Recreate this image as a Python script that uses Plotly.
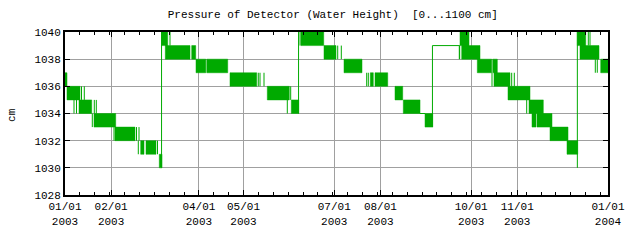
import pandas as pd
import plotly.graph_objects as go

# ---- data (days since 2003-01-01, level in cm) ----
band_start = [0.0, 1.34, 9.41, 19.49, 33.61, 50.88, 54.45, 63.39, 64.87, 67.42, 85.17,
              88.06, 95.32, 110.92, 135.99, 152.12, 158.64, 174.10, 187.55, 205.22, 208.38,
              221.83, 227.41, 242.0, 265.52, 266.66, 277.15, 287.5, 288.37, 297.78, 311.9,
              313.92, 317.28, 326.02, 337.45, 344.37, 346.18, 360.10]
band_end = [1.34, 10.08, 17.95, 34.08, 47.05, 53.10, 61.17, 65.20, 69.03, 84.02, 87.86,
            94.65, 109.37, 128.86, 150.77, 157.09, 173.90, 182.17, 199.64, 207.24, 216.92,
            227.0, 238.64, 247.17, 271.57, 278.96, 286.83, 290.6, 299.13, 312.57, 321.51,
            316.6, 327.36, 338.12, 344.64, 350.02, 358.95, 365.0]
band_low = [1036, 1035, 1034, 1033, 1032, 1031, 1031, 1030, 1039, 1038, 1038,
            1037, 1037, 1036, 1035, 1034, 1039, 1038, 1037, 1036, 1036,
            1035, 1034, 1033, 1039, 1038, 1037, 1037, 1036, 1035, 1034,
            1033, 1033, 1032, 1031, 1039, 1038, 1037]

spike_day = [11.09, 12.97, 6.05, 7.73, 19.7, 21.04, 18.35, 32.94, 48.06, 49.74, 49.27,
             62.18, 70.58, 129.93, 131.08, 133.77, 151.71, 149.43, 158.0, 183.31, 185.73,
             202.8, 203.88, 265.05, 287.03, 300.27, 302.02, 310.35, 351.76, 352.9,
             356.46, 357.8]
spike_low = [1035, 1035, 1034, 1034, 1034, 1034, 1033, 1032, 1032, 1032, 1031,
             1031, 1039, 1036, 1036, 1036, 1035, 1034, 1039, 1038, 1038,
             1036, 1036, 1038, 1036, 1036, 1036, 1034, 1039, 1039,
             1037, 1037]

path_day = [64.9, 64.9, None, 157.0, 157.0, None, 238.64, 242.0, None,
            247.0, 247.0, 265.3, 265.3, None, 344.4, 344.4]
path_cm = [1030, 1040, None, 1034, 1040, None, 1034, 1034, None,
           1033, 1039, 1039, 1038, None, 1030, 1040]

tick_dates = ['2003-01-01', '2003-02-01', '2003-04-01', '2003-05-01', '2003-07-01',
              '2003-08-01', '2003-10-01', '2003-11-01', '2004-01-01']
tick_text = ['01/01<br>2003', '02/01<br>2003', '04/01<br>2003', '05/01<br>2003',
             '07/01<br>2003', '08/01<br>2003', '10/01<br>2003', '11/01<br>2003',
             '01/01<br>2004']
y_ticks = [1028, 1030, 1032, 1034, 1036, 1038, 1040]

START = pd.Timestamp('2003-01-01')
GREEN = '#00aa00'
FONT = 'Liberation Mono'


def dt(d):
    return None if d is None else START + pd.Timedelta(days=d)


bx, by = [], []
for s, e, lo in zip(band_start, band_end, band_low):
    bx += [dt(s), dt(e), dt(e), dt(s), dt(s), None]
    by += [lo, lo, lo + 1, lo + 1, lo, None]

sx, sy = [], []
for d, lo in zip(spike_day, spike_low):
    sx += [dt(d), dt(d), None]
    sy += [lo, lo + 1, None]

fig = go.Figure()
fig.add_trace(go.Scatter(x=bx, y=by, mode='lines', fill='toself', fillcolor=GREEN,
                         line=dict(color=GREEN, width=0.5), connectgaps=False,
                         hoverinfo='skip', showlegend=False))
fig.add_trace(go.Scatter(x=sx, y=sy, mode='lines', line=dict(color=GREEN, width=1),
                         connectgaps=False, showlegend=False))
fig.add_trace(go.Scatter(x=[dt(d) for d in path_day], y=path_cm, mode='lines',
                         line=dict(color=GREEN, width=1), connectgaps=False,
                         showlegend=False))

fig.update_layout(
    width=640, height=240,
    margin=dict(l=65, r=32, t=32, b=45),
    paper_bgcolor='white', plot_bgcolor='white',
    font=dict(family=FONT, size=11, color='black'),
    title=dict(text='Pressure of Detector (Water Height)  [0...1100 cm]',
               x=0.52, xanchor='center', y=0.94, yanchor='middle',
               font=dict(family=FONT, size=11, color='black')),
    showlegend=False,
)
fig.update_xaxes(
    type='date', range=[START, pd.Timestamp('2004-01-01')],
    tickmode='array', tickvals=tick_dates, ticktext=tick_text,
    ticks='inside', ticklen=5, tickcolor='black', tickwidth=1,
    showgrid=True, gridcolor='#a0a0a0', gridwidth=1,
    showline=True, linecolor='black', linewidth=2, mirror='ticks',
    zeroline=False,
    minor=dict(ticks='inside', ticklen=3, tickcolor='black', dtick=10 * 86400000,
               tick0='2003-01-01', showgrid=False),
    tickfont=dict(family=FONT, size=11),
)
fig.update_yaxes(
    range=[1028, 1040], tickmode='array', tickvals=y_ticks,
    ticks='inside', ticklen=5, tickcolor='black',
    showgrid=True, gridcolor='#a0a0a0', gridwidth=1,
    showline=True, linecolor='black', linewidth=2, mirror='ticks',
    zeroline=False, tickfont=dict(family=FONT, size=11),
)
fig.add_annotation(text='cm', xref='paper', yref='paper', x=-0.098, y=0.49,
                   textangle=-90, showarrow=False, xanchor='center', yanchor='middle',
                   font=dict(family=FONT, size=11, color='black'))

fig.write_html('out.html')
